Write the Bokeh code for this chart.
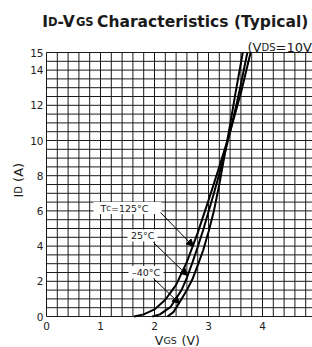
import math
from bokeh.plotting import figure
from bokeh.models import Label, Arrow, NormalHead, BoxAnnotation, Range1d
from bokeh.core.properties import value
from bokeh.embed import file_html
from bokeh.resources import INLINE

# ---------------- data ----------------
vgs_125 = [1.62, 1.8, 2.0, 2.2, 2.4, 2.6, 2.8, 3.0, 3.2, 3.4, 3.6, 3.78]
id_125 = [0.0, 0.12, 0.4, 0.95, 1.8, 3.1, 4.75, 6.6, 8.5, 10.5, 12.7, 15.0]

vgs_25 = [1.96, 2.1, 2.3, 2.5, 2.6, 2.7, 2.8, 2.9, 3.0, 3.1, 3.2, 3.3, 3.4, 3.5, 3.6, 3.7, 3.72]
id_25 = [0.0, 0.12, 0.55, 1.5, 2.2, 3.05, 3.95, 4.9, 5.95, 7.0, 8.1, 9.25, 10.5, 11.8, 13.2, 14.7, 15.0]

vgs_m40 = [2.24, 2.35, 2.46, 2.6, 2.7, 2.8, 2.9, 3.0, 3.1, 3.2, 3.3, 3.4, 3.5, 3.6, 3.635]
id_m40 = [0.0, 0.25, 0.78, 1.5, 2.1, 2.9, 3.75, 4.8, 6.0, 7.5, 9.2, 10.9, 12.7, 14.4, 15.0]

x_ticks = [0, 1, 2, 3, 4]
y_ticks = [0, 2, 4, 6, 8, 10, 12, 14, 15]
x_grid = [round(0.2 * i, 1) for i in range(0, 26)]
y_grid = [0.5 * i for i in range(0, 31)]
x_min, y_min, y_max = 0.0, 0.0, 15.0

# ---------------- layout (canvas pixels) ----------------
W, H = 312, 347
PX_L, PX_B = 46.0, 316.0       # canvas position of (0, 0)
PPU_X, PPU_Y = 54.0, 17.6      # pixels per data unit

def dx(px):
    return (px - PX_L) / PPU_X

def dy(py):
    return (PX_B - py) / PPU_Y

FONT = "DejaVu Sans"
TXT = "#1a1a1a"

p = figure(width=W, height=H, output_backend="svg", toolbar_location=None,
           x_axis_type=None, y_axis_type=None,
           x_range=Range1d(dx(0), dx(W)), y_range=Range1d(dy(H), dy(0)),
           min_border=0, min_border_left=0, min_border_right=0,
           min_border_top=0, min_border_bottom=0)
p.title.visible = False
p.outline_line_color = None
p.background_fill_color = "white"
p.border_fill_color = "white"

x_end = dx(W)

# grid (built from the grid lists)
p.segment(x0=x_grid, x1=x_grid, y0=[y_min] * len(x_grid), y1=[y_max] * len(x_grid),
          line_color="#1a1a1a", line_width=1)
p.segment(x0=[x_min] * len(y_grid), x1=[x_end] * len(y_grid), y0=y_grid, y1=y_grid,
          line_color="#1a1a1a", line_width=1)

# tick labels
p.text(x=x_ticks, y=[y_min] * len(x_ticks), text=[str(t) for t in x_ticks],
       text_font=value(FONT), text_font_size="10.5px", text_color="#222222",
       text_align="center", text_baseline="middle", y_offset=9.5)
p.text(x=[x_min] * len(y_ticks), y=y_ticks, text=[str(t) for t in y_ticks],
       text_font=value(FONT), text_font_size="10.5px", text_color="#222222",
       text_align="right", text_baseline="middle", x_offset=-3)

# curves
for xs, ys in ((vgs_125, id_125), (vgs_25, id_25), (vgs_m40, id_m40)):
    p.line(xs, ys, line_color="black", line_width=2, line_join="round")

def seg(px, py, text, size, bold=False, angle=0.0, baseline="alphabetic"):
    p.add_layout(Label(x=dx(px), y=dy(py), text=text, text_font=FONT,
                       text_font_size=f"{size}px",
                       text_font_style="bold" if bold else "normal",
                       text_color=TXT, text_align="left", text_baseline=baseline,
                       angle=angle))

# title
seg(41.7, 21, "I", 15.5, True)
seg(47.5, 21, "D", 11.5, True)
seg(57.0, 21, "-V", 15.5, True)
seg(75.4, 21, "GS", 11.5, True)
seg(96.6, 21, "Characteristics (Typical)", 15.5, True)

# condition
seg(247.0, 47, "(V", 13)
seg(261.0, 47, "DS", 10)
seg(275.1, 47, "=10V", 13)

# x-axis label
seg(154.3, 339.5, "V", 12.5)
seg(162.9, 339.5, "GS", 9.5)
seg(181.0, 339.5, "(V)", 12.5)

# y-axis label (rotated)
seg(17.5, 197.0, "I", 13, angle=math.pi / 2)
seg(17.5, 193.2, "D", 10, angle=math.pi / 2)
seg(17.5, 181.4, "(A)", 13, angle=math.pi / 2)

# curve annotations
def box(l, r, t, b):
    p.add_layout(BoxAnnotation(left=dx(l), right=dx(r), top=dy(t), bottom=dy(b),
                               fill_color="white", fill_alpha=1.0, line_color=None))

def arrow(x0, y0, x1, y1):
    p.add_layout(Arrow(end=NormalHead(size=7, fill_color="black", line_color="black", line_width=1),
                       x_start=dx(x0), y_start=dy(y0), x_end=dx(x1), y_end=dy(y1),
                       line_color="black", line_width=1))

box(93, 161, 201.5, 213.5)
box(127, 157, 229, 241)
box(128, 163, 265.5, 278)

seg(100.0, 207.5, "T", 9.5, baseline="middle")
seg(105.8, 208.5, "C", 7, baseline="middle")
seg(110.5, 207.5, "=125°C", 9.5, baseline="middle")
seg(130.5, 235.0, "25°C", 9.5, baseline="middle")
seg(131.5, 271.7, "\u201340°C", 9.5, baseline="middle")

arrow(160, 212, 193, 246)
arrow(153, 242, 187, 275)
arrow(153, 278, 179, 303)

open("out.html", "w").write(file_html(p, INLINE))
